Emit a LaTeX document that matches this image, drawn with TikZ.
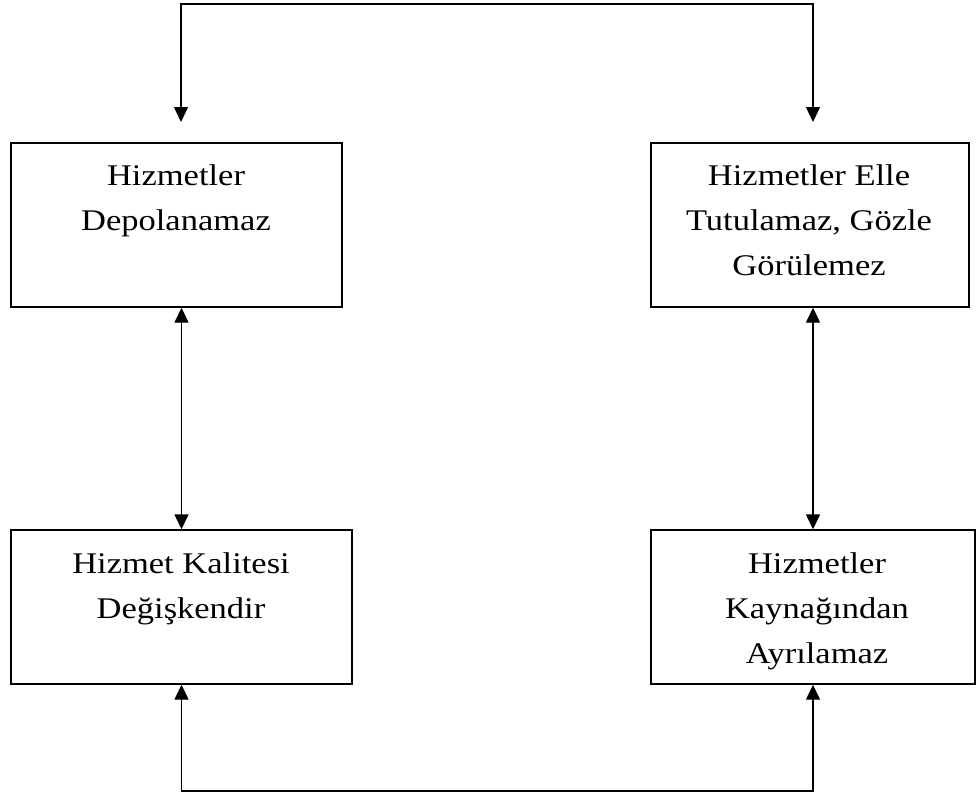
\documentclass[tikz,border=0pt]{standalone}
\usepackage{fontspec}
\setmainfont{Liberation Serif}[FakeStretch=1.15]
\usetikzlibrary{arrows.meta,calc}
\begin{document}
\begin{tikzpicture}[x=1pt,y=-1pt,
  box/.style={draw=black,line width=1.4pt,rectangle,inner sep=0pt},
  label/.style={inner sep=0pt,anchor=north,align=center,font=\fontsize{30}{45}\selectfont},
  arr/.style={line width=1.4pt,{Triangle[length=15pt,width=14pt]}-{Triangle[length=15pt,width=14pt]}}]
\useasboundingbox[fill=white] (0,0) rectangle (976,798);
% boxes
\node[box,minimum width=331pt,minimum height=164pt] (tl) at (176.5,225) {};
\node[box,minimum width=318pt,minimum height=164pt] (tr) at (810,225) {};
\node[box,minimum width=341pt,minimum height=154pt] (bl) at (181.5,607) {};
\node[box,minimum width=324pt,minimum height=154pt] (br) at (813,607) {};
% texts
\node[label] (tlt) at (176,163) {\rule{0pt}{22pt}Hizmetler\\Depolanamaz};
\node[label] (trt) at (809,163) {\rule{0pt}{22pt}Hizmetler Elle\\Tutulamaz, Gözle\\Görülemez};
\node[label] (blt) at (181,551) {\rule{0pt}{22pt}Hizmet Kalitesi\\Değişkendir};
\node[label] (brt) at (817,551) {\rule{0pt}{22pt}Hizmetler\\Kaynağından\\Ayrılamaz};
% connector points
\coordinate (tlin) at (181,122);
\coordinate (trin) at (813,122);
\coordinate (topL) at (181,4);
\coordinate (topR) at (813,4);
\coordinate (bot) at (500,791);
% connectors
\draw[arr] (tlin) -- (topL) -- (topR) -- (trin);
\draw[arr] (bl.north |- tl.south) -- (bl.north);
\draw[arr] (br.north |- tr.south) -- (br.north);
\draw[arr] (bl.south) |- (bot) -| (br.south);
\end{tikzpicture}
\end{document}
